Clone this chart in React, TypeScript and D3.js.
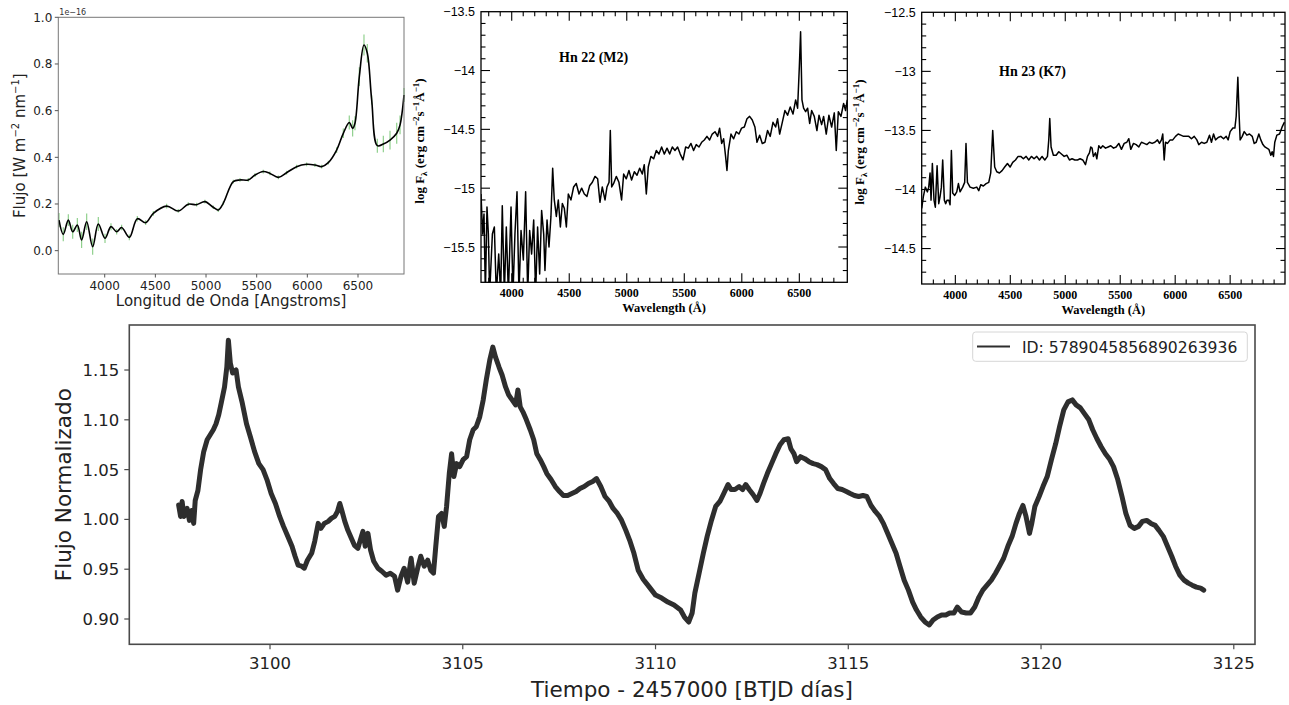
import React from 'react';
import * as d3 from 'd3';

// ---------- Panel 1 (matplotlib spectrum with error bars) ----------
const p1Wave = [3549,3591,3641,3684,3730,3772,3822,3881,3937,4003,4062,4118,4167,4243,4322,4404,4480,4611,4726,4825,4907,4989,5071,5121,5170,5269,5335,5417,5483,5565,5631,5714,5795,5894,5993,6075,6141,6207,6289,6355,6414,6447,6470,6513,6559,6592,6635,6691,6750,6816,6882,6915,6954];
const p1Flux = [0.131,0.07,0.131,0.081,0.11,0.046,0.124,0.017,0.114,0.053,0.103,0.081,0.099,0.057,0.137,0.12,0.16,0.191,0.17,0.199,0.197,0.21,0.186,0.174,0.203,0.296,0.303,0.303,0.324,0.339,0.331,0.314,0.334,0.36,0.37,0.367,0.36,0.377,0.431,0.503,0.549,0.524,0.546,0.746,0.881,0.846,0.646,0.45,0.457,0.474,0.503,0.539,0.667];
const p1Err = [0.03,0.03,0.025,0.03,0.03,0.035,0.035,0.035,0.03,0.02,0.015,0.012,0.012,0.012,0.012,0.01,0.01,0.01,0.008,0.008,0.008,0.008,0.008,0.008,0.008,0.008,0.008,0.008,0.008,0.008,0.008,0.008,0.008,0.008,0.008,0.008,0.008,0.008,0.012,0.02,0.03,0.035,0.03,0.04,0.045,0.04,0.02,0.03,0.035,0.04,0.045,0.04,0.03];
const p1XTicks = [4000,4500,5000,5500,6000,6500];
const p1YTicks = [0.0,0.2,0.4,0.6,0.8,1.0];

// ---------- Panel 2 (Hn 22) ----------
const p2Wave = [3733,3747,3759,3771,3785,3797,3808,3832,3849,3866,3887,3904,3918,3936,3953,3971,3994,4011,4028,4046,4063,4081,4101,4121,4139,4156,4173,4191,4208,4225,4243,4260,4278,4289,4307,4324,4341,4356,4370,4388,4405,4423,4440,4457,4475,4492,4515,4538,4561,4585,4608,4631,4654,4677,4701,4724,4747,4767,4787,4811,4828,4846,4857,4869,4886,4909,4932,4955,4973,4996,5019,5042,5066,5089,5112,5135,5152,5170,5187,5210,5234,5257,5280,5303,5326,5350,5373,5396,5419,5442,5465,5489,5512,5535,5558,5581,5604,5628,5651,5674,5697,5720,5743,5767,5790,5807,5825,5842,5859,5871,5883,5906,5929,5952,5975,5998,6022,6045,6068,6091,6114,6132,6155,6178,6201,6224,6247,6271,6294,6311,6329,6352,6375,6398,6421,6445,6468,6485,6500,6511,6523,6537,6555,6572,6590,6607,6630,6653,6671,6694,6711,6734,6757,6781,6804,6821,6839,6862,6885,6902,6917];
const p2Flux = [-15.05,-15.39,-15.22,-15.9,-15.16,-15.39,-15.9,-15.39,-15.33,-15.9,-15.56,-15.9,-15.15,-15.9,-15.33,-15.9,-15.16,-15.9,-15.39,-15.03,-15.9,-15.36,-15.61,-15.03,-15.9,-15.36,-15.56,-15.27,-15.9,-15.33,-15.73,-15.19,-15.39,-15.70,-15.27,-15.5,-15.24,-14.83,-15.1,-15.24,-15.1,-15.33,-15.13,-15.17,-15.33,-15.05,-15.1,-14.99,-14.96,-15.05,-15.0,-15.05,-15.07,-14.98,-14.95,-14.9,-14.92,-15.12,-14.99,-15.1,-14.99,-14.95,-14.51,-14.99,-14.96,-14.9,-14.95,-15.1,-14.88,-14.92,-14.85,-14.93,-14.86,-14.89,-14.83,-14.88,-14.8,-15.05,-14.82,-14.73,-14.75,-14.68,-14.71,-14.65,-14.71,-14.66,-14.71,-14.65,-14.68,-14.65,-14.71,-14.76,-14.65,-14.66,-14.62,-14.68,-14.63,-14.65,-14.61,-14.59,-14.56,-14.59,-14.54,-14.52,-14.56,-14.49,-14.62,-14.58,-14.73,-14.85,-14.68,-14.54,-14.58,-14.52,-14.54,-14.49,-14.48,-14.41,-14.39,-14.42,-14.48,-14.61,-14.55,-14.62,-14.61,-14.51,-14.56,-14.44,-14.48,-14.41,-14.54,-14.44,-14.34,-14.38,-14.31,-14.37,-14.25,-14.32,-13.97,-13.67,-14.25,-14.32,-14.35,-14.32,-14.45,-14.34,-14.39,-14.51,-14.38,-14.46,-14.39,-14.54,-14.38,-14.48,-14.36,-14.68,-14.35,-14.39,-14.28,-14.34,-14.25];
const p2YTicks = [-13.5,-14,-14.5,-15,-15.5];

// ---------- Panel 3 (Hn 23) ----------
const p3Wave = [3694,3709,3727,3746,3758,3770,3779,3791,3806,3818,3834,3849,3861,3873,3885,3900,3912,3925,3940,3952,3964,3976,3994,4013,4028,4043,4067,4085,4097,4110,4134,4164,4195,4213,4231,4255,4280,4304,4322,4340,4358,4377,4401,4425,4449,4474,4498,4522,4547,4571,4595,4619,4644,4668,4692,4716,4741,4765,4789,4814,4838,4850,4859,4871,4892,4917,4941,4965,4990,5014,5038,5062,5087,5111,5135,5159,5184,5202,5220,5232,5244,5256,5275,5287,5305,5323,5341,5366,5390,5414,5439,5463,5487,5511,5536,5560,5578,5596,5621,5645,5669,5693,5718,5742,5766,5790,5815,5839,5857,5875,5887,5900,5912,5930,5954,5978,6003,6027,6051,6076,6100,6124,6148,6173,6197,6215,6240,6264,6288,6312,6330,6349,6367,6391,6415,6440,6464,6482,6500,6525,6543,6555,6570,6582,6591,6610,6628,6652,6676,6701,6719,6737,6761,6779,6798,6816,6834,6852,6870,6882,6894,6906,6925,6949,6973,6994];
const p3Flux = [-14.16,-14.06,-13.98,-14.02,-13.98,-13.86,-14.09,-13.78,-14.09,-14.15,-13.80,-14.12,-14.06,-13.98,-13.75,-14.09,-14.12,-14.09,-14.09,-14.13,-13.67,-14.03,-14.05,-14.02,-13.95,-14.02,-13.98,-13.94,-13.61,-13.94,-13.98,-13.99,-13.98,-14.01,-13.96,-13.97,-13.95,-13.94,-13.86,-13.50,-13.81,-13.85,-13.86,-13.84,-13.81,-13.78,-13.81,-13.77,-13.75,-13.72,-13.72,-13.74,-13.72,-13.75,-13.72,-13.74,-13.72,-13.75,-13.72,-13.75,-13.72,-13.58,-13.40,-13.64,-13.71,-13.71,-13.68,-13.70,-13.72,-13.71,-13.75,-13.74,-13.75,-13.75,-13.74,-13.75,-13.79,-13.72,-13.69,-13.64,-13.65,-13.72,-13.69,-13.74,-13.63,-13.65,-13.63,-13.65,-13.64,-13.63,-13.65,-13.64,-13.61,-13.66,-13.61,-13.60,-13.57,-13.66,-13.61,-13.62,-13.64,-13.60,-13.61,-13.62,-13.60,-13.61,-13.60,-13.58,-13.61,-13.58,-13.53,-13.75,-13.60,-13.61,-13.58,-13.58,-13.55,-13.53,-13.54,-13.55,-13.55,-13.55,-13.57,-13.55,-13.58,-13.62,-13.60,-13.61,-13.60,-13.54,-13.60,-13.53,-13.58,-13.56,-13.55,-13.57,-13.55,-13.58,-13.51,-13.48,-13.48,-13.38,-13.05,-13.38,-13.58,-13.55,-13.51,-13.54,-13.53,-13.55,-13.61,-13.60,-13.53,-13.58,-13.62,-13.64,-13.65,-13.66,-13.71,-13.68,-13.72,-13.60,-13.54,-13.53,-13.47,-13.43];
const p3YTicks = [-12.5,-13,-13.5,-14,-14.5];
const oldXTicks = [4000,4500,5000,5500,6000,6500];

// ---------- Panel 4 (light curve) ----------
const lcTime = [3097.63,3097.68,3097.72,3097.77,3097.85,3097.91,3097.97,3098.02,3098.06,3098.13,3098.2,3098.28,3098.37,3098.45,3098.53,3098.6,3098.67,3098.74,3098.82,3098.88,3098.92,3098.97,3099.03,3099.12,3099.18,3099.28,3099.39,3099.49,3099.6,3099.71,3099.82,3099.92,3100.03,3100.14,3100.25,3100.35,3100.46,3100.57,3100.65,3100.73,3100.82,3100.89,3100.97,3101.08,3101.16,3101.25,3101.32,3101.41,3101.51,3101.59,3101.68,3101.75,3101.81,3101.87,3101.94,3102.02,3102.11,3102.19,3102.28,3102.34,3102.41,3102.47,3102.54,3102.61,3102.69,3102.8,3102.9,3103.01,3103.12,3103.23,3103.31,3103.4,3103.48,3103.57,3103.66,3103.74,3103.83,3103.91,3104.0,3104.09,3104.17,3104.24,3104.3,3104.37,3104.45,3104.52,3104.58,3104.65,3104.71,3104.77,3104.84,3104.92,3105.01,3105.1,3105.18,3105.27,3105.35,3105.44,3105.53,3105.61,3105.7,3105.78,3105.85,3105.94,3106.02,3106.11,3106.19,3106.28,3106.37,3106.43,3106.49,3106.56,3106.65,3106.75,3106.84,3106.92,3107.01,3107.1,3107.18,3107.29,3107.4,3107.51,3107.61,3107.72,3107.83,3107.94,3108.04,3108.15,3108.26,3108.37,3108.47,3108.58,3108.69,3108.8,3108.9,3109.01,3109.12,3109.23,3109.33,3109.44,3109.55,3109.68,3109.84,
3110.0,3110.16,3110.32,3110.48,3110.65,3110.75,3110.86,3110.95,3111.02,3111.13,3111.24,3111.34,3111.45,3111.56,3111.67,3111.77,3111.88,3111.96,3112.06,3112.17,3112.26,3112.34,3112.43,3112.53,3112.63,3112.71,3112.8,3112.9,3113.01,3113.12,3113.23,3113.33,3113.44,3113.51,3113.59,3113.66,3113.76,3113.87,3113.98,3114.09,3114.19,3114.3,3114.41,3114.52,3114.62,3114.73,3114.84,3114.95,3115.05,3115.16,3115.27,3115.38,3115.48,3115.59,3115.7,3115.81,3115.91,3116.02,3116.13,3116.24,3116.34,3116.45,3116.56,3116.67,3116.77,3116.88,3116.99,3117.1,3117.2,3117.31,3117.42,3117.53,3117.63,3117.74,3117.83,3117.94,3118.06,3118.17,3118.28,3118.39,3118.49,3118.6,3118.71,3118.82,3118.92,3119.03,3119.14,3119.25,3119.35,3119.44,3119.53,3119.61,3119.7,3119.76,3119.84,3119.95,3120.05,3120.16,3120.27,3120.38,3120.48,3120.59,3120.7,3120.81,3120.91,3121.02,3121.13,3121.24,3121.34,3121.45,3121.56,3121.67,3121.77,3121.88,3121.99,3122.1,3122.2,3122.31,3122.42,3122.53,3122.63,3122.74,3122.85,3122.96,3123.06,3123.17,3123.28,3123.39,3123.49,3123.6,3123.71,3123.82,3123.92,3124.03,3124.14,3124.22];
const lcFlux = [1.0145,1.003,1.018,1.003,1.011,0.999,1.009,0.996,1.019,1.029,1.05,1.068,1.080,1.085,1.090,1.096,1.105,1.118,1.133,1.153,1.180,1.157,1.147,1.150,1.133,1.117,1.096,1.083,1.068,1.056,1.050,1.040,1.026,1.016,1.003,0.993,0.983,0.973,0.963,0.954,0.953,0.951,0.959,0.966,0.978,0.996,0.991,0.996,0.998,1.001,1.003,1.008,1.016,1.008,0.998,0.989,0.981,0.974,0.971,0.979,0.988,0.973,0.986,0.969,0.958,0.951,0.948,0.944,0.946,0.943,0.929,0.943,0.951,0.937,0.961,0.936,0.951,0.963,0.953,0.959,0.949,0.946,0.973,1.003,1.006,0.993,1.013,1.046,1.066,1.043,1.056,1.053,1.060,1.063,1.080,1.090,1.093,1.103,1.120,1.140,1.160,1.173,1.163,1.153,1.145,1.133,1.125,1.120,1.115,1.130,1.113,1.108,1.100,1.090,1.080,1.066,1.060,1.053,1.046,1.040,1.033,1.028,1.024,1.024,1.026,1.028,1.031,1.033,1.036,1.038,1.041,1.033,1.023,1.018,1.011,1.006,0.999,0.989,0.979,0.966,0.949,0.94,0.932,
0.924,0.921,0.917,0.914,0.909,0.902,0.897,0.906,0.926,0.946,0.966,0.983,0.999,1.013,1.018,1.026,1.035,1.03,1.03,1.033,1.03,1.035,1.03,1.025,1.019,1.026,1.036,1.046,1.056,1.066,1.075,1.080,1.081,1.071,1.066,1.058,1.063,1.061,1.058,1.056,1.055,1.053,1.050,1.041,1.036,1.031,1.03,1.028,1.026,1.024,1.023,1.024,1.023,1.014,1.008,1.003,0.996,0.986,0.976,0.966,0.953,0.939,0.929,0.917,0.909,0.902,0.897,0.894,0.899,0.902,0.904,0.904,0.906,0.906,0.912,0.907,0.906,0.906,0.912,0.922,0.929,0.934,0.939,0.946,0.953,0.961,0.973,0.983,0.996,1.006,1.014,1.003,0.986,0.996,1.013,1.023,1.033,1.043,1.06,1.076,1.093,1.11,1.118,1.12,1.115,1.112,1.106,1.1,1.09,1.081,1.073,1.066,1.061,1.053,1.04,1.023,1.006,0.994,0.991,0.993,0.998,0.999,0.996,0.994,0.989,0.983,0.973,0.963,0.953,0.944,0.939,0.936,0.934,0.932,0.931,0.929];
const lcXTicks = [3100,3105,3110,3115,3120,3125];
const lcYTicks = [0.90,0.95,1.00,1.05,1.10,1.15];
const legendLabel = 'ID: 5789045856890263936';

const MPL = 'DejaVu Sans, sans-serif';
const OLD = 'Liberation Serif, serif';

function OldPanel(props: {
  wave: number[]; flux: number[]; xDom: [number, number]; yDom: [number, number];
  left: number; right: number; top: number; bottom: number; yTicks: number[];
  name: string; nameX: number; nameY: number; ylabX: number; clipId: string;
}) {
  const { wave, flux, xDom, yDom, left, right, top, bottom, yTicks, name, nameX, nameY, ylabX, clipId } = props;
  const x = d3.scaleLinear().domain(xDom).range([left, right]);
  const y = d3.scaleLinear().domain(yDom).range([bottom, top]);
  const line = d3.line<number>().x((_, i) => x(wave[i])).y(d => y(d));
  const xMinor = d3.range(Math.ceil(xDom[0] / 100) * 100, xDom[1], 100).filter(v => x(v) - left > 2 && right - x(v) > 2);
  const yMinor = d3.range(Math.ceil(yDom[0] * 10), Math.floor(yDom[1] * 10) + 1).map(v => v / 10).filter(v => y(v) - top > 2 && bottom - y(v) > 2);
  const isMajX = (v: number) => v % 500 === 0;
  const isMajY = (v: number) => Math.abs(v * 2 - Math.round(v * 2)) < 1e-6;
  const cx = (left + right) / 2;
  const cy = (top + bottom) / 2;
  return (
    <g>
      <defs>
        <clipPath id={clipId}><rect x={left} y={top} width={right - left} height={bottom - top} /></clipPath>
      </defs>
      <path d={line(flux) || ''} fill="none" stroke="#000" strokeWidth={1.5} strokeLinejoin="round" clipPath={`url(#${clipId})`} />
      <rect x={left} y={top} width={right - left} height={bottom - top} fill="none" stroke="#000" strokeWidth={1.3} />
      {xMinor.map(v => {
        const L = isMajX(v) ? 9 : 4.5;
        return (
          <g key={'xm' + v}>
            <line x1={x(v)} x2={x(v)} y1={bottom} y2={bottom - L} stroke="#000" strokeWidth={1.1} />
            <line x1={x(v)} x2={x(v)} y1={top} y2={top + L} stroke="#000" strokeWidth={1.1} />
          </g>
        );
      })}
      {yMinor.map(v => {
        const L = isMajY(v) ? 9 : 4.5;
        return (
          <g key={'ym' + v}>
            <line x1={left} x2={left + L} y1={y(v)} y2={y(v)} stroke="#000" strokeWidth={1.1} />
            <line x1={right} x2={right - L} y1={y(v)} y2={y(v)} stroke="#000" strokeWidth={1.1} />
          </g>
        );
      })}
      {oldXTicks.map(v => (
        <text key={'xl' + v} x={x(v)} y={bottom + 14.5} textAnchor="middle" fontFamily={OLD} fontWeight="bold" fontSize={12}>{v}</text>
      ))}
      {yTicks.map(v => (
        <text key={'yl' + v} x={left - 6} y={y(v) + 4.5} textAnchor="end" fontFamily="Liberation Sans, sans-serif" fontSize={12.5}>{'\u2212' + String(Math.abs(v))}</text>
      ))}
      <text x={cx} y={bottom + 29.5} textAnchor="middle" fontFamily={OLD} fontWeight="bold" fontSize={12.5}>Wavelength (Å)</text>
      <text transform={`translate(${ylabX},${cy - 6}) rotate(-90)`} textAnchor="middle" fontFamily={OLD} fontWeight="bold" fontSize={13}>
        log F<tspan dy={3} fontSize={9}>λ</tspan><tspan dy={-3}> (erg cm</tspan><tspan dy={-5} fontSize={9}>−2</tspan><tspan dy={5}>s</tspan><tspan dy={-5} fontSize={9}>−1</tspan><tspan dy={5}>Å</tspan><tspan dy={-5} fontSize={9}>−1</tspan><tspan dy={5}>)</tspan>
      </text>
      <text x={nameX} y={nameY} fontFamily={OLD} fontWeight="bold" fontSize={14}>{name}</text>
    </g>
  );
}

export default function App() {
  // Panel 1 scales
  const L1 = 58.3, R1 = 404, T1 = 17.3, B1 = 274;
  const x1 = d3.scaleLinear().domain([3542, 6954]).range([L1, R1]);
  const y1 = d3.scaleLinear().domain([-0.1, 1.0]).range([B1, T1]);
  const line1 = d3.line<number>().x((_, i) => x1(p1Wave[i])).y(d => y1(d)).curve(d3.curveCatmullRom);

  // Panel 4 scales
  const L4 = 129.3, R4 = 1255, T4 = 325, B4 = 644.3;
  const x4 = d3.scaleLinear().domain([3096.35, 3125.55]).range([L4, R4]);
  const y4 = d3.scaleLinear().domain([0.8746, 1.1952]).range([B4, T4]);
  const line4 = d3.line<number>().x((_, i) => x4(lcTime[i])).y(d => y4(d));

  return (
    <svg width={1289} height={705} style={{ position: 'absolute', left: 0, top: 0, background: '#fff' }}>
      <rect x={0} y={0} width={1289} height={705} fill="#fff" />
      {/* Panel 1 */}
      <g>
        {p1Flux.map((v, i) => (
          <line key={'e' + i} x1={x1(p1Wave[i])} x2={x1(p1Wave[i])} y1={y1(v - p1Err[i])} y2={y1(v + p1Err[i])} stroke="#7dc97a" strokeWidth={1.2} opacity={0.85} />
        ))}
        <path d={line1(p1Flux) || ''} fill="none" stroke="#000" strokeWidth={1.6} />
        <rect x={L1} y={T1} width={R1 - L1} height={B1 - T1} fill="none" stroke="#777" strokeWidth={1} />
        {p1XTicks.map(v => (
          <g key={'p1x' + v}>
            <line x1={x1(v)} x2={x1(v)} y1={B1} y2={B1 + 3.5} stroke="#555" />
            <text x={x1(v)} y={B1 + 15.5} textAnchor="middle" fontFamily={MPL} fontSize={12} fill="#222">{v}</text>
          </g>
        ))}
        {p1YTicks.map(v => (
          <g key={'p1y' + v}>
            <line x1={L1 - 3.5} x2={L1} y1={y1(v)} y2={y1(v)} stroke="#555" />
            <text x={L1 - 6} y={y1(v) + 4.3} textAnchor="end" fontFamily={MPL} fontSize={12} fill="#222">{v.toFixed(1)}</text>
          </g>
        ))}
        <text x={L1 + 1} y={15} fontFamily={MPL} fontSize={8} fill="#333">1e−16</text>
        <text x={(L1 + R1) / 2} y={306} textAnchor="middle" fontFamily={MPL} fontSize={15} fill="#222">Longitud de Onda [Angstroms]</text>
        <text transform={`translate(25,${(T1 + B1) / 2}) rotate(-90)`} textAnchor="middle" fontFamily={MPL} fontSize={15} fill="#222">
          Flujo [W m<tspan dy={-6} fontSize={10}>−2</tspan><tspan dy={6}> nm</tspan><tspan dy={-6} fontSize={10}>−1</tspan><tspan dy={6}>]</tspan>
        </text>
      </g>

      {/* Panel 2 */}
      <OldPanel wave={p2Wave} flux={p2Flux} xDom={[3733, 6917]} yDom={[-15.8, -13.5]} left={481} right={847.3} top={11.7} bottom={282.3}
        yTicks={p2YTicks} name="Hn 22 (M2)" nameX={559} nameY={62} ylabX={424} clipId="c2" />
      {/* Panel 3 */}
      <OldPanel wave={p3Wave} flux={p3Flux} xDom={[3694, 6999]} yDom={[-14.8, -12.5]} left={921.7} right={1285} top={12.3} bottom={284}
        yTicks={p3YTicks} name="Hn 23 (K7)" nameX={999} nameY={76} ylabX={864} clipId="c3" />

      {/* Panel 4 */}
      <g>
        <path d={line4(lcFlux) || ''} fill="none" stroke="#2e2e2e" strokeWidth={5} strokeLinejoin="round" strokeLinecap="round" />
        <rect x={L4} y={T4} width={R4 - L4} height={B4 - T4} fill="none" stroke="#4a4a4a" strokeWidth={1.6} />
        {lcXTicks.map(v => (
          <g key={'lx' + v}>
            <line x1={x4(v)} x2={x4(v)} y1={B4} y2={B4 + 5} stroke="#4a4a4a" strokeWidth={1.2} />
            <text x={x4(v)} y={B4 + 25} textAnchor="middle" fontFamily={MPL} fontSize={16.5} fill="#222">{v}</text>
          </g>
        ))}
        {lcYTicks.map(v => (
          <g key={'ly' + v}>
            <line x1={L4 - 5} x2={L4} y1={y4(v)} y2={y4(v)} stroke="#4a4a4a" strokeWidth={1.2} />
            <text x={L4 - 10} y={y4(v) + 6} textAnchor="end" fontFamily={MPL} fontSize={16.5} fill="#222">{v.toFixed(2)}</text>
          </g>
        ))}
        <text x={692} y={697} textAnchor="middle" fontFamily={MPL} fontSize={21.5} fill="#222">Tiempo - 2457000 [BTJD días]</text>
        <text transform={`translate(71,${(T4 + B4) / 2}) rotate(-90)`} textAnchor="middle" fontFamily={MPL} fontSize={21.5} fill="#222">Flujo Normalizado</text>
        {/* legend */}
        <rect x={972.7} y={332} width={274.6} height={29.3} rx={3} fill="#fff" stroke="#d6d6d6" strokeWidth={1} />
        <line x1={977} x2={1010} y1={346.5} y2={346.5} stroke="#2e2e2e" strokeWidth={2} />
        <text x={1022} y={352.5} fontFamily={MPL} fontSize={15.6} fill="#222">{legendLabel}</text>
      </g>
    </svg>
  );
}
